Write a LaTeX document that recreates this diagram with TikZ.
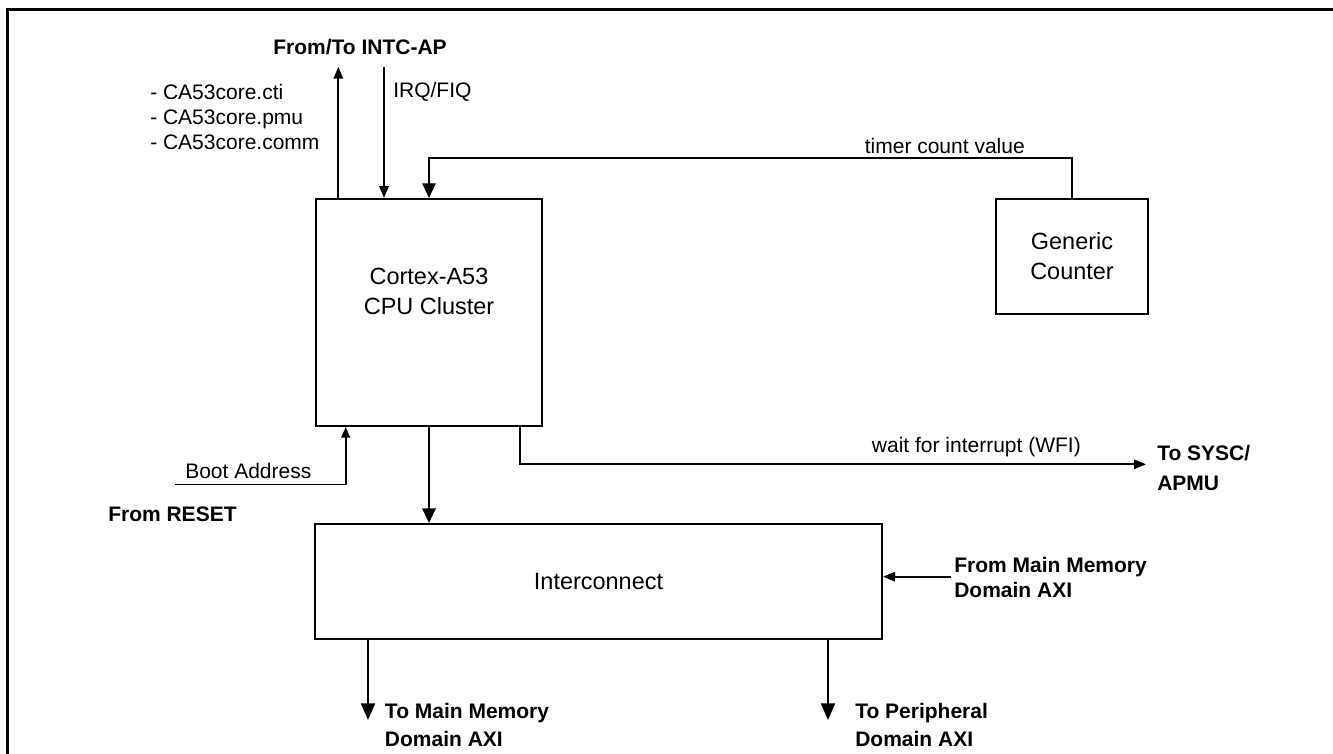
\documentclass[tikz,border=0pt]{standalone}
\usepackage{fontspec}
\setmainfont{Liberation Sans}
\usetikzlibrary{arrows.meta,calc}
\begin{document}
\begin{tikzpicture}[x=0.75pt,y=-0.75pt,
  box/.style={draw,line width=1.5pt,inner sep=0pt,font=\fontsize{17.6}{22.5}\selectfont,align=center},
  boxlbl/.style={inner sep=0pt,font=\fontsize{17.6}{22.5}\selectfont,align=center},
  conn/.style={line width=1.5pt},
  tipS/.style={-{Triangle[length=9pt,width=7pt]}},
  tipL/.style={-{Triangle[length=11pt,width=10pt]}},
  tipB/.style={-{Triangle[length=12.5pt,width=10.5pt]}},
  lbl/.style={inner sep=0pt,font=\fontsize{15.75}{18.75}\selectfont,align=left},
  blbl/.style={inner sep=0pt,font=\fontsize{15.75}{18.75}\selectfont\bfseries,align=left},
]
\useasboundingbox (0,0) rectangle (1333,753);
\fill[white] (0,0) rectangle (1333,753);
\draw[line width=2pt] (1345,9.3) -- (7.3,9.3) -- (7.3,765);

% blocks
\node[box,minimum width=169.5pt,minimum height=170.25pt] (cpu) at (429,312.5) {};
\node[boxlbl] (cpulbl) at (429,291) {Cortex-A53\\CPU Cluster};
\node[box,minimum width=425.25pt,minimum height=86.25pt] (ic) at (598.5,581.5) {Interconnect};
\node[box,minimum width=114pt,minimum height=86.25pt] (gc) at (1072,256.5) {Generic\\Counter};

% labels
\node[blbl,anchor=center] (intc) at (360,46.7) {From/To INTC-AP};
\node[lbl,anchor=west] (irq) at (393,91.7) {IRQ/FIQ};
\node[lbl,anchor=west] (sigs) at (150,116.7) {- CA53core.cti\\- CA53core.pmu\\- CA53core.comm};
\node[lbl,anchor=east] (tcv) at (1025,145.7) {timer count value};
\node[lbl,anchor=west] (wfi) at (871.7,446.7) {wait for interrupt (WFI)};
\node[blbl,anchor=west,font=\fontsize{15.75}{22.5}\selectfont\bfseries] (sysc) at (1157,468) {To SYSC/\\APMU};
\node[blbl,anchor=west] (fmm) at (954,577.5) {From Main Memory\\Domain AXI};
\node[blbl,anchor=west,font=\fontsize{15.75}{21.5}\selectfont\bfseries] (tmm) at (384.7,725) {To Main Memory\\Domain AXI};
\node[blbl,anchor=west,font=\fontsize{15.75}{21.5}\selectfont\bfseries] (tpd) at (855,725) {To Peripheral\\Domain AXI};
\node[lbl,anchor=west] (boot) at (185,471) {Boot Address};
\node[blbl,anchor=west] (reset) at (108,514) {From RESET};

% free ends
\coordinate (intcU) at (338.3,66.7);
\coordinate (intcD) at (384,67);
\coordinate (bootS) at (175,484.7);
\coordinate (bootC) at (345.7,484.7);
\coordinate (wfiE) at (1146,464.3);
\coordinate (fmmS) at (950.7,576.7);
\coordinate (tmmE) at (368,720);
\coordinate (tpdE) at (828,720);

% connectors
\draw[conn,tipS] (cpu.north -| intcU) -- (intcU);
\draw[conn,tipS] (intcD) -- (intcD |- cpu.north);
\draw[conn,tipL] (gc.north) -- ++(0,-39.7) -| (cpu.north);
\draw[line width=1.1pt] (bootS) -- (bootC);
\draw[conn,-{Triangle[length=8pt,width=6.5pt]}] (bootC) -- (bootC |- cpu.south);
\draw[conn,tipL] (cpu.south) -- (cpu.south |- ic.north);
\draw[conn,tipS] ($(cpu.south east)+(-23.5,0)$) |- (wfiE);
\draw[conn,tipS] (fmmS) -- (fmmS -| ic.east);
\draw[conn,tipB] (tmmE |- ic.south) -- (tmmE);
\draw[conn,tipB] (tpdE |- ic.south) -- (tpdE);
\end{tikzpicture}
\end{document}
